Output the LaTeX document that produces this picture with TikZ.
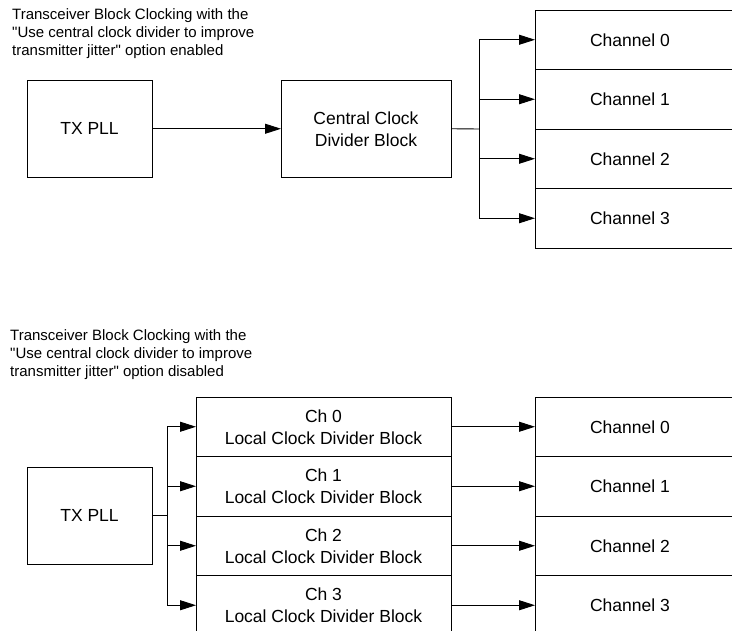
\documentclass[tikz,border=0pt]{standalone}
\usepackage{fontspec}
\setmainfont{Liberation Sans}[Ligatures=TeXOff]
\usepackage{xcolor}
\usetikzlibrary{arrows.meta,positioning}

\begin{document}
\begin{tikzpicture}[
        x=1pt, y=-1pt,
        block/.style={rectangle, draw, line width=0.9pt, outer sep=0pt, inner sep=0pt, align=center, font=\fontsize{17.5}{22}\selectfont},
        pll/.style={block, minimum width=125pt, minimum height=97.5pt, anchor=north west},
        lcd/.style={block, minimum width=255pt, minimum height=59.5pt, anchor=north west},
        chan/.style={rectangle, draw, line width=0.9pt, outer sep=0pt, inner sep=0pt, minimum width=210pt, minimum height=59.5pt, anchor=north west, font=\fontsize{17.5}{22}\selectfont, execute at end node={\hspace*{20pt}}},
        note/.style={anchor=north west, inner sep=0pt, align=left, font=\fontsize{15}{18}\selectfont},
        arrow/.style={-{Triangle[length=16pt, width=10pt]}, line width=0.9pt}
    ]
        \useasboundingbox (0,0) rectangle (732,631);
        \clip (0,0) rectangle (732,631);

        % Enabled: central divider
        \node[note] (titleA) at (12,8) {Transceiver Block Clocking with the\\"Use central clock divider to improve\\transmitter jitter" option enabled};
        \node[pll] (pllA) at (27,80) {TX PLL};
        \node[pll, minimum width=170pt] (ccdb) at (281,80) {Central Clock\\Divider Block};
        \node[chan] (chA0) at (535,10) {Channel 0};
        \node[chan, below=0pt of chA0] (chA1) {Channel 1};
        \node[chan, below=0pt of chA1] (chA2) {Channel 2};
        \node[chan, below=0pt of chA2] (chA3) {Channel 3};
        \coordinate (splitA) at (479,129);

        \draw[arrow] (pllA) -- (ccdb);
        \draw[line width=0.9pt] (ccdb.east) -- (splitA);
        \draw[arrow] (splitA) |- (chA0.west);
        \draw[arrow] (splitA) |- (chA1.west);
        \draw[arrow] (splitA) |- (chA2.west);
        \draw[arrow] (splitA) |- (chA3.west);

        % Disabled: one local divider per channel
        \node[note] (titleB) at (10,329) {Transceiver Block Clocking with the\\"Use central clock divider to improve\\transmitter jitter" option disabled};
        \node[pll] (pllB) at (27,467) {TX PLL};
        \node[lcd] (lcd0) at (196,397) {Ch 0\\Local Clock Divider Block};
        \node[lcd, below=0pt of lcd0] (lcd1) {Ch 1\\Local Clock Divider Block};
        \node[lcd, below=0pt of lcd1] (lcd2) {Ch 2\\Local Clock Divider Block};
        \node[lcd, below=0pt of lcd2] (lcd3) {Ch 3\\Local Clock Divider Block};
        \node[chan] (chB0) at (535,397) {Channel 0};
        \node[chan, below=0pt of chB0] (chB1) {Channel 1};
        \node[chan, below=0pt of chB1] (chB2) {Channel 2};
        \node[chan, below=0pt of chB2] (chB3) {Channel 3};
        \coordinate (splitB) at (167,515.75);

        \draw[line width=0.9pt] (pllB.east) -- (splitB);
        \draw[arrow] (splitB) |- (lcd0.west);
        \draw[arrow] (splitB) |- (lcd1.west);
        \draw[arrow] (splitB) |- (lcd2.west);
        \draw[arrow] (splitB) |- (lcd3.west);
        \draw[arrow] (lcd0) -- (chB0);
        \draw[arrow] (lcd1) -- (chB1);
        \draw[arrow] (lcd2) -- (chB2);
        \draw[arrow] (lcd3) -- (chB3);
    \end{tikzpicture}
\end{document}
